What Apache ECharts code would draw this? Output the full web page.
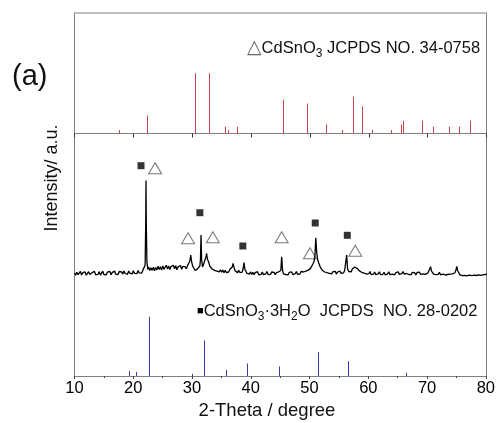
<!DOCTYPE html>
<html><head><meta charset="utf-8">
<script src="https://cdn.jsdelivr.net/npm/echarts@6/dist/echarts.min.js"></script>
<style>html,body{margin:0;padding:0;background:#fff}#c{width:498px;height:423px}</style>
</head><body><div id="c"></div>
<script>
// ---- data ----
const xMin = 10, xMax = 80, xStep = 10;

// CdSnO3 JCPDS 34-0758 reference lines (2θ, relative intensity)
const cdsno3Pos = [17.6, 22.37, 30.47, 32.85, 35.62, 36.08, 37.55, 45.48, 49.56, 52.73, 55.4, 57.32, 58.85, 60.49, 63.72, 65.47, 65.86, 69.09, 70.96, 73.57, 75.38, 77.25];
const cdsno3Int = [6, 30, 100, 100, 11, 6, 11, 56, 50, 15, 6, 61, 45, 6, 6, 15, 21, 21, 11, 11, 11, 21];

// CdSnO3·3H2O JCPDS 28-0202 reference lines
const hydratePos = [19.32, 20.5, 22.71, 30.08, 32.05, 35.85, 39.42, 44.8, 51.43, 56.52, 66.44];
const hydrateInt = [8.4, 6.7, 100, 3.9, 60, 10, 21, 16, 40.5, 25, 5.6];

// measured XRD pattern (2θ, intensity a.u.)
const xrdPattern = [
[10.0,10.5],[10.2,8.2],[10.4,11.3],[10.6,8.9],[10.8,10.1],[11.0,12.0],[11.2,8.5],[11.4,10.8],[11.6,9.0],[11.8,11.6],
[12.0,8.3],[12.2,10.2],[12.4,11.8],[12.6,9.1],[12.8,7.9],[13.0,10.9],[13.2,9.4],[13.4,12.1],[13.6,8.7],[13.8,10.6],
[14.0,9.2],[14.2,11.9],[14.4,8.4],[14.6,10.3],[14.8,12.3],[15.0,9.0],[15.2,10.7],[15.4,8.6],[15.6,11.4],[15.8,9.5],
[16.0,12.2],[16.2,8.8],[16.4,10.9],[16.6,9.7],[16.8,12.4],[17.0,9.3],[17.2,11.1],[17.4,8.9],[17.6,12.0],[17.8,10.2],
[18.0,11.7],[18.2,9.4],[18.4,12.6],[18.6,10.0],[18.8,11.3],[19.0,9.1],[19.2,12.5],[19.4,10.4],[19.6,11.8],[19.8,9.6],
[20.0,12.7],[20.2,10.1],[20.4,11.5],[20.6,9.8],[20.8,12.9],[21.0,10.6],[21.2,12.2],[21.4,10.3],[21.6,13.1],[21.8,11.5],
[22.0,18.5],[22.1,60],[22.15,103],[22.2,60],[22.3,22],[22.45,14.0],[22.6,16.5],[22.8,12.9],[23.0,15.8],[23.2,13.1],
[23.4,16.4],[23.6,12.8],[23.8,15.9],[24.0,13.6],[24.2,17.2],[24.4,14.0],[24.6,16.8],[24.8,13.5],[25.0,17.5],[25.2,14.3],
[25.4,16.1],[25.6,18.2],[25.8,14.6],[26.0,17.4],[26.2,13.9],[26.4,16.9],[26.6,15.0],[26.8,18.3],[27.0,14.7],[27.2,17.8],
[27.4,13.8],[27.6,16.6],[27.8,14.9],[28.0,18.0],[28.2,14.2],[28.4,17.1],[28.6,15.3],[28.8,16.8],[29.0,14.6],[29.2,17.9],
[29.4,19.2],[29.6,22.5],[29.75,28.5],[29.9,21.5],[30.1,17.2],[30.3,15.8],[30.5,13.0],[30.7,12.2],[30.9,14.6],[31.1,13.2],
[31.3,17.5],[31.4,24],[31.5,48.5],[31.6,24],[31.75,16.5],[31.9,18.8],[32.1,17.4],[32.3,26.0],[32.45,30.0],[32.6,24.0],
[32.8,21.5],[33.0,17.2],[33.2,18.6],[33.4,14.5],[33.6,16.2],[33.8,13.1],[34.0,15.0],[34.2,12.4],[34.4,14.3],[34.6,11.6],
[34.8,13.8],[35.0,11.2],[35.2,13.5],[35.4,10.8],[35.6,13.2],[35.8,11.0],[36.0,12.9],[36.2,11.5],[36.4,14.2],[36.6,13.0],
[36.8,16.5],[36.95,20.2],[37.1,16.0],[37.3,12.6],[37.5,14.1],[37.7,10.9],[37.9,13.2],[38.1,11.0],[38.3,12.8],[38.5,11.4],
[38.65,15],[38.8,21.0],[38.95,14.0],[39.1,12.2],[39.3,10.1],[39.5,12.0],[39.7,9.4],[39.9,11.6],[40.1,9.0],[40.3,11.3],
[40.5,8.7],[40.7,10.9],[40.9,9.5],[41.1,11.8],[41.3,8.6],[41.5,10.6],[41.7,9.2],[41.9,11.4],[42.1,8.8],[42.3,10.5],
[42.5,9.7],[42.7,11.9],[42.9,8.9],[43.1,10.8],[43.3,9.1],[43.5,11.5],[43.7,9.6],[43.9,11.1],[44.1,8.8],[44.3,10.9],
[44.5,9.9],[44.7,11.7],[44.9,10.2],[45.05,13],[45.2,26.8],[45.35,13],[45.5,9.6],[45.7,11.4],[45.9,9.0],[46.1,10.8],
[46.3,8.7],[46.5,11.2],[46.7,9.4],[46.9,11.6],[47.1,8.9],[47.3,10.5],[47.5,9.8],[47.7,11.9],[47.9,9.2],[48.1,11.0],
[48.3,9.5],[48.5,12.0],[48.7,10.1],[48.9,11.5],[49.1,9.8],[49.3,12.3],[49.5,11.0],[49.7,13.4],[49.9,12.6],[50.1,15.1],
[50.3,14.8],[50.5,19.5],[50.7,22.0],[50.85,28],[51.0,45.8],[51.15,31],[51.3,24.0],[51.5,20.5],[51.7,17.2],[51.9,16.0],
[52.1,13.2],[52.3,14.1],[52.5,11.5],[52.7,13.0],[52.9,10.8],[53.1,12.6],[53.3,10.2],[53.5,12.1],[53.7,9.6],[53.9,11.8],
[54.1,10.0],[54.3,12.2],[54.5,9.4],[54.7,11.5],[54.9,10.3],[55.1,12.4],[55.3,10.1],[55.5,11.9],[55.7,10.6],[55.9,13.0],
[56.1,15.0],[56.24,28.5],[56.4,14.5],[56.6,12.0],[56.8,13.5],[57.0,11.6],[57.2,14.4],[57.4,13.8],[57.6,16.4],[57.8,17.5],
[58.0,15.2],[58.2,15.9],[58.4,12.6],[58.6,13.8],[58.8,11.2],[59.0,12.9],[59.2,10.4],[59.4,12.1],[59.6,9.5],[59.8,11.4],
[60.0,9.8],[60.2,11.9],[60.4,9.0],[60.6,10.7],[60.8,9.3],[61.0,11.5],[61.2,8.8],[61.4,10.4],[61.6,9.6],[61.8,11.7],
[62.0,8.9],[62.2,10.8],[62.4,9.2],[62.6,11.3],[62.8,8.6],[63.0,10.6],[63.2,9.7],[63.4,11.8],[63.6,8.8],[63.8,10.3],
[64.0,9.4],[64.2,11.2],[64.4,8.7],[64.6,10.9],[64.8,9.5],[65.0,11.6],[65.2,9.1],[65.4,11.0],[65.6,9.8],[65.8,12.0],
[66.0,9.4],[66.2,11.3],[66.4,10.0],[66.6,11.7],[66.8,9.0],[67.0,10.6],[67.2,8.8],[67.4,11.1],[67.6,9.3],[67.8,10.8],
[68.0,8.6],[68.2,11.0],[68.4,9.5],[68.6,11.4],[68.8,9.0],[69.0,10.5],[69.2,9.7],[69.4,11.6],[69.6,9.2],[69.8,11.0],
[70.0,10.4],[70.2,12.5],[70.35,14.0],[70.5,16.8],[70.65,12.5],[70.8,11.2],[71.0,9.3],[71.2,10.9],[71.4,8.8],[71.6,10.6],
[71.8,9.1],[72.0,11.2],[72.2,8.7],[72.4,10.4],[72.6,9.4],[72.8,11.1],[73.0,8.5],[73.2,10.3],[73.4,9.0],[73.6,11.0],
[73.8,9.3],[74.0,10.8],[74.2,9.6],[74.4,11.5],[74.6,10.5],[74.8,13.2],[74.95,17.0],[75.1,12.8],[75.3,11.0],[75.5,8.6],
[75.7,9.9],[75.9,7.8],[76.1,9.6],[76.3,8.1],[76.5,9.9],[76.7,7.7],[76.9,9.4],[77.1,8.3],[77.3,10.0],[77.5,7.9],
[77.7,9.5],[77.9,8.4],[78.1,10.3],[78.3,8.0],[78.5,9.8],[78.7,8.6],[78.9,10.4],[79.1,8.2],[79.3,9.9],[79.5,8.8],
[79.7,10.6],[79.9,9.0],[80.0,10.0]
];

// phase markers above the pattern (2θ, intensity level)
const squareMarks = [[21.3,117.8],[31.3,70.8],[38.6,37.5],[50.9,60.5],[56.35,48.2]];
const triangleMarks = [[23.7,115.2],[29.3,45.2],[33.5,46.2],[45.2,46.2],[50.0,30.2],[57.7,32.8]];

// ---- chart ----
const chart = echarts.init(document.getElementById('c'), null, {renderer: 'canvas'});
const FONT = 'Liberation Sans, Arial, Helvetica, sans-serif';
const FRAME = '#808080';
const RED = '#c8424a', BLUE = '#3a3aac';
const L = 74.5, W = 412;

function stickRenderer(color) {
  return function (params, api) {
    const b = api.coord([api.value(0), 0]);
    const t = api.coord([api.value(0), api.value(1)]);
    return {type: 'rect', shape: {x: Math.round(b[0]), y: t[1], width: 1, height: b[1] - t[1]},
      style: {fill: color, stroke: null}};
  };
}

const hiddenX = (g) => ({type: 'value', gridIndex: g, min: xMin, max: xMax, interval: xStep, show: false});

chart.setOption({
  animation: false,
  grid: [
    {left: L, width: W, top: 13, height: 120.5, show: true, borderColor: FRAME, borderWidth: 1},
    {left: L, width: W, top: 133.5, height: 150},
    {left: L, width: W, top: 283.5, height: 92.5},
    {left: L, width: W, top: 13, height: 363}
  ],
  xAxis: [
    {type: 'value', gridIndex: 0, min: xMin, max: xMax, interval: xStep,
      axisLine: {show: true, lineStyle: {color: FRAME}},
      axisTick: {show: true, inside: false, length: 4, lineStyle: {color: '#333'}},
      axisLabel: {show: false}, splitLine: {show: false}},
    hiddenX(1),
    {type: 'value', gridIndex: 2, min: xMin, max: xMax, interval: xStep,
      axisLine: {show: true, lineStyle: {color: FRAME}},
      axisTick: {show: true, inside: false, length: 3, lineStyle: {color: '#444'}},
      minorTick: {show: true, splitNumber: 2, length: 2, lineStyle: {color: '#444'}},
      axisLabel: {show: true, margin: 4, color: '#000', fontSize: 16.5, fontFamily: FONT},
      splitLine: {show: false}},
    hiddenX(3)
  ],
  yAxis: [
    {type: 'value', gridIndex: 0, min: 0, max: 200, show: false},
    {type: 'value', gridIndex: 1, min: 0, max: 150, show: false},
    {type: 'value', gridIndex: 2, min: 0, max: 156, show: false},
    {type: 'value', gridIndex: 3, min: 0, max: 1, position: 'left',
      axisLine: {show: true, lineStyle: {color: FRAME}}, axisTick: {show: false},
      axisLabel: {show: false}, splitLine: {show: false}},
    {type: 'value', gridIndex: 3, min: 0, max: 1, position: 'right',
      axisLine: {show: true, lineStyle: {color: FRAME}}, axisTick: {show: false},
      axisLabel: {show: false}, splitLine: {show: false}}
  ],
  series: [
    {type: 'custom', xAxisIndex: 0, yAxisIndex: 0, renderItem: stickRenderer(RED),
      data: cdsno3Pos.map((p, i) => [p, cdsno3Int[i]]), silent: true},
    {type: 'line', xAxisIndex: 1, yAxisIndex: 1, data: xrdPattern, showSymbol: false, symbol: 'none',
      lineStyle: {color: '#000', width: 1.3}, silent: true},
    {type: 'scatter', xAxisIndex: 1, yAxisIndex: 1, data: squareMarks, symbol: 'rect', symbolSize: 7,
      itemStyle: {color: '#000'}, silent: true},
    {type: 'scatter', xAxisIndex: 1, yAxisIndex: 1, data: triangleMarks, symbol: 'triangle', symbolSize: [13, 11],
      itemStyle: {color: 'rgba(0,0,0,0)', borderColor: '#555', borderWidth: 1}, silent: true},
    {type: 'custom', xAxisIndex: 2, yAxisIndex: 2, renderItem: stickRenderer(BLUE),
      data: hydratePos.map((p, i) => [p, hydrateInt[i]]), silent: true}
  ],
  graphic: [
    {type: 'text', x: 12, y: 77, style: {text: '(a)', fontSize: 29, fontFamily: FONT, fill: '#111',
      align: 'left', verticalAlign: 'middle'}},
    {type: 'text', x: 52, y: 178, rotation: Math.PI / 2, style: {text: 'Intensity/ a.u.', fontSize: 18,
      fontFamily: FONT, fill: '#111', align: 'center', verticalAlign: 'middle'}},
    {type: 'text', x: 267, y: 411, style: {text: '2-Theta / degree', fontSize: 18.5, fontFamily: FONT,
      fill: '#111', align: 'center', verticalAlign: 'middle'}},
    {type: 'text', x: 247, y: 36, style: {
      text: '{t|△}{n|CdSnO}{s|3}{n| JCPDS NO. 34-0758}', fontFamily: FONT, fill: '#111',
      rich: {
        t: {fontSize: 19, lineHeight: 24, fill: '#666', fontFamily: 'DejaVu Sans'},
        n: {fontSize: 16.5, lineHeight: 24, fill: '#111', fontFamily: FONT},
        s: {fontSize: 12, lineHeight: 12, verticalAlign: 'bottom', fill: '#111', fontFamily: FONT}
      }}},
    {type: 'text', x: 197, y: 299, style: {
      text: '{q|■}{n|CdSnO}{s|3}{n|·3H}{s|2}{n|O  JCPDS  NO. 28-0202}', fontFamily: FONT, fill: '#111',
      rich: {
        q: {fontSize: 11, lineHeight: 24, fill: '#000', fontFamily: FONT},
        n: {fontSize: 16.5, lineHeight: 24, fill: '#111', fontFamily: FONT},
        s: {fontSize: 12, lineHeight: 12, verticalAlign: 'bottom', fill: '#111', fontFamily: FONT}
      }}}
  ]
});
</script></body></html>
